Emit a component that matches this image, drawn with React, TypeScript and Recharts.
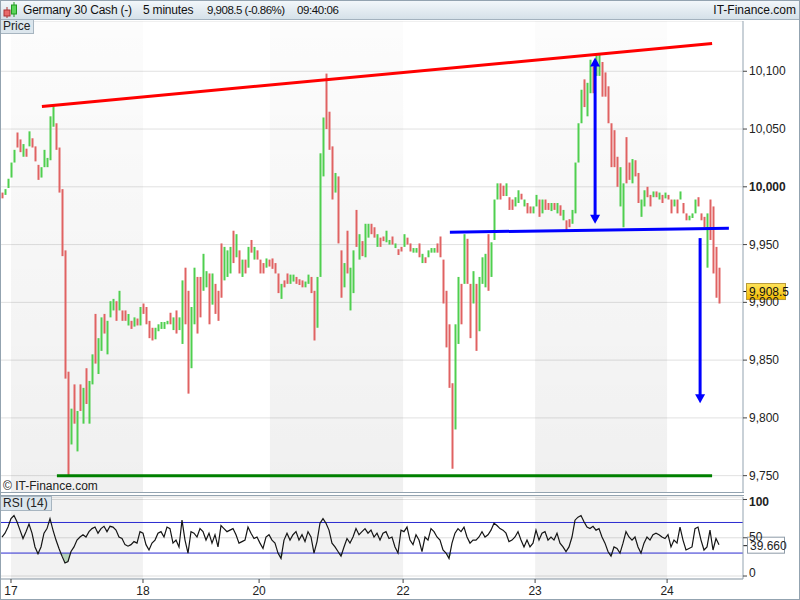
import React from 'react';
import {
  ComposedChart,
  Bar,
  Cell,
  Line,
  Area,
  XAxis,
  YAxis,
  CartesianGrid,
  ReferenceLine,
  ReferenceArea,
} from 'recharts';

const FONT = '"Liberation Sans", Arial, sans-serif';
const UP = '#4fcf4f';
const DOWN = '#e06262';
const FRAME = '#93a3b0';

// 5 minute bars, one entry per bar
const lows = [
  9990, 9993, 9999, 10008, 10021, 10034, 10030, 10026, 10026, 10035,
  10034, 10022, 10006, 10008, 10017, 10017, 10023, 10052, 10032, 9995,
  9940, 9834, 9749, 9777, 9795, 9771, 9806, 9795, 9812, 9795,
  9829, 9847, 9838, 9858, 9873, 9855, 9887, 9893, 9884, 9893,
  9884, 9884, 9880, 9877, 9879, 9880, 9880, 9890, 9881, 9869,
  9867, 9868, 9875, 9877, 9877, 9881, 9881, 9876, 9873, 9876,
  9864, 9881, 9821, 9843, 9881, 9873, 9887, 9910, 9913, 9881,
  9898, 9890, 9884, 9904, 9919, 9922, 9925, 9934, 9939, 9925,
  9922, 9925, 9930, 9943, 9937, 9937, 9925, 9925, 9930, 9931,
  9929, 9925, 9908, 9903, 9913, 9916, 9916, 9918, 9916, 9915,
  9913, 9913, 9916, 9908, 9867, 9878, 9922, 10009, 10050, 10032,
  9989, 9995, 9951, 9904, 9913, 9925, 9893, 9908, 9948, 9937,
  9940, 9939, 9956, 9959, 9956, 9948, 9948, 9953, 9952, 9950,
  9950, 9947, 9941, 9944, 9948, 9950, 9944, 9943, 9943, 9939,
  9934, 9934, 9939, 9943, 9943, 9943, 9939, 9899, 9861, 9826,
  9756, 9790, 9864, 9881, 9916, 9916, 9869, 9899, 9858, 9875,
  9916, 9913, 9910, 9922, 9954, 9989, 9989, 9992, 9992, 9980,
  9980, 9983, 9986, 9989, 9983, 9977, 9977, 9977, 9983, 9974,
  9977, 9980, 9980, 9979, 9980, 9977, 9975, 9971, 9962, 9965,
  9968, 9977, 10021, 10055, 10069, 10061, 10081, 10081, 10096, 10096,
  10078, 10078, 10055, 10017, 10017, 10000, 9983, 9965, 10003, 10006,
  10003, 10009, 9986, 9974, 9983, 9991, 9983, 9991, 9991, 9989,
  9986, 9990, 9989, 9977, 9983, 9977, 9989, 9977, 9971, 9971,
  9973, 9977, 9983, 9971, 9965, 9930, 9954, 9925, 9904, 9899,
];

const highs = [
  9995, 9998, 10007, 10021, 10032, 10047, 10041, 10037, 10033, 10048,
  10042, 10035, 10019, 10017, 10032, 10025, 10061, 10070, 10055, 10034,
  9998, 9945, 9840, 9808, 9829, 9806, 9829, 9826, 9843, 9832,
  9855, 9890, 9869, 9887, 9890, 9884, 9901, 9903, 9901, 9910,
  9893, 9893, 9890, 9884, 9887, 9886, 9896, 9899, 9896, 9884,
  9878, 9878, 9881, 9883, 9883, 9884, 9891, 9887, 9893, 9887,
  9919, 9930, 9910, 9896, 9930, 9922, 9922, 9942, 9927, 9925,
  9925, 9916, 9910, 9951, 9948, 9945, 9948, 9962, 9959, 9945,
  9937, 9937, 9948, 9954, 9948, 9945, 9937, 9934, 9938, 9937,
  9938, 9934, 9925, 9916, 9919, 9925, 9924, 9924, 9922, 9920,
  9919, 9918, 9924, 9922, 9910, 9922, 10029, 10060, 10098, 10065,
  10035, 10012, 10009, 9945, 9934, 9962, 9930, 9945, 9980, 9959,
  9953, 9968, 9968, 9968, 9965, 9959, 9956, 9957, 9962, 9954,
  9957, 9951, 9946, 9948, 9959, 9956, 9951, 9947, 9947, 9951,
  9942, 9939, 9945, 9947, 9947, 9951, 9957, 9937, 9910, 9881,
  9830, 9881, 9922, 9916, 9959, 9955, 9916, 9927, 9916, 9922,
  9939, 9942, 9959, 9952, 9989, 10003, 10003, 10001, 10003, 9991,
  9989, 9991, 9997, 9994, 9989, 9986, 9983, 9983, 9993, 9989,
  9989, 9989, 9986, 9986, 9986, 9986, 9984, 9980, 9971, 9972,
  9980, 10021, 10055, 10084, 10093, 10090, 10110, 10104, 10114, 10115,
  10108, 10099, 10087, 10055, 10049, 10026, 10017, 10003, 10043, 10021,
  10024, 10023, 10012, 9989, 9997, 10000, 9993, 9996, 9996, 9995,
  9993, 9995, 9993, 9989, 9989, 9989, 9996, 9986, 9977, 9975,
  9977, 9989, 9991, 9977, 9974, 9977, 9989, 9983, 9948, 9930,
];

// u = rising candle, d = falling candle
const moves = [
  'duuuuddudu', 'ddduuuuudd', 'dddudududu', 'uduuduuudu', 'ddudududdd',
  'duuuuududu', 'udduudduud', 'uddduuudud', 'udududddud', 'dddudduudd',
  'duudduuudd', 'dudduduudu', 'duuddudduu', 'duddudduud', 'uduuuddddd',
  'duududdudu', 'uuduuuddud', 'duududduud', 'uddudududd', 'uuuuduuduu',
  'dddddduudd', 'udduuddudu', 'duddududdu', 'uudddudddd',
].join('');

const rsiValues = [
  51, 56, 64, 75, 79, 71, 60, 49, 58, 68,
  56, 38, 29, 38, 56, 62, 75, 60, 47, 36,
  26, 17, 19, 32, 38, 47, 51, 54, 51, 58,
  62, 64, 56, 62, 65, 58, 65, 64, 60, 51,
  49, 41, 39, 41, 45, 43, 58, 56, 41, 34,
  43, 47, 56, 58, 51, 64, 62, 43, 47, 38,
  73, 47, 30, 58, 56, 51, 62, 58, 47, 56,
  43, 54, 38, 66, 62, 58, 60, 62, 54, 43,
  45, 47, 64, 56, 49, 51, 43, 36, 51, 54,
  47, 43, 30, 23, 47, 56, 47, 54, 58, 47,
  54, 45, 58, 51, 30, 45, 69, 75, 69, 60,
  43, 38, 32, 26, 38, 49, 43, 51, 62, 54,
  58, 62, 56, 60, 51, 56, 47, 56, 58, 49,
  51, 38, 30, 60, 58, 64, 47, 41, 54, 47,
  32, 51, 47, 62, 58, 51, 47, 34, 30, 23,
  43, 56, 62, 58, 64, 51, 43, 47, 47, 51,
  58, 51, 54, 60, 69, 66, 62, 60, 56, 45,
  47, 51, 58, 47, 38, 47, 38, 43, 60, 47,
  56, 58, 47, 51, 47, 56, 43, 38, 32, 38,
  51, 73, 77, 79, 71, 64, 62, 65, 60, 62,
  51, 43, 32, 26, 38, 36, 30, 43, 58, 51,
  47, 51, 38, 30, 43, 51, 47, 54, 56, 54,
  51, 49, 54, 38, 47, 43, 64, 47, 34, 36,
  38, 62, 64, 47, 34, 38, 60, 34, 49, 41,
];

const priceTicks = [9750, 9800, 9850, 9900, 9950, 10000, 10050, 10100];
const rsiTicks = [0, 50, 100];
const dayTicks = [3, 47, 85.7, 133.7, 177.7, 221.7];
const dayLabels = ['17', '18', '20', '22', '23', '24'];
const sessionShades = [[3, 47], [89.3, 133.7], [177.7, 221.7]];
const lastPrice = 9908.5;
const lastRsi = 39.66;

// drawn annotations (bar index, price)
const resistanceLine = [{ x: 13.3, y: 10069.6 }, { x: 236.7, y: 10124 }];
const necklineLine = [{ x: 149.3, y: 9960.7 }, { x: 242.3, y: 9964.1 }];
const supportLine = [{ x: 18.3, y: 9750 }, { x: 236.7, y: 9750 }];
const riseArrow = [{ x: 197.7, y: 10112 }, { x: 197.7, y: 9968 }];
const targetArrow = [{ x: 232.7, y: 9955.6 }, { x: 232.7, y: 9812.6 }];

const X_DOMAIN = [-0.333, 247];

const data = lows.map((low, i) => ({
  i,
  range: [low, highs[i]],
  up: moves[i] === 'u',
  rsi: rsiValues[i],
}));

const fmtPrice = (v: number) => v.toLocaleString('en-US');

const PriceTick = ({ x, y, payload }: any) => (
  <text
    x={x}
    y={y}
    dominantBaseline="central"
    fontSize={12}
    fontFamily={FONT}
    fontWeight={payload.value === 10000 ? 700 : 400}
    fill="#222"
  >
    {fmtPrice(payload.value)}
  </text>
);

const RsiTick = ({ x, y, payload }: any) => {
  const nudge = payload.value === 100 ? 2 : payload.value === 0 ? -3 : -1;
  return (
    <text
      x={x}
      y={y + nudge}
      dominantBaseline="central"
      fontSize={12}
      fontFamily={FONT}
      fontWeight={payload.value === 100 ? 700 : 400}
      fill="#222"
    >
      {payload.value}
    </text>
  );
};

const DayTick = ({ x, y, payload }: any) => (
  <text x={x} y={y + 6} textAnchor="middle" dominantBaseline="central" fontSize={12} fontFamily={FONT} fill="#222">
    {dayLabels[dayTicks.indexOf(payload.value)]}
  </text>
);

const PriceTag = ({ viewBox }: any) => {
  const right = viewBox.x + viewBox.width;
  const y = viewBox.y - 1;
  return (
    <g>
      <line x1={right} x2={right + 5} y1={y} y2={y} stroke="#111" />
      <rect x={right + 3.5} y={y - 8} width={39} height={16} fill="url(#goldTag)" stroke="#b99a3a" />
      <text x={right + 6} y={y} dominantBaseline="central" fontSize={12} fontFamily={FONT} fill="#111">
        {lastPrice.toLocaleString('en-US', { minimumFractionDigits: 1 })}
      </text>
    </g>
  );
};

const RsiTag = ({ viewBox }: any) => {
  const right = viewBox.x + viewBox.width;
  const y = viewBox.y;
  return (
    <g>
      <line x1={right} x2={right + 4} y1={y} y2={y} stroke="#111" />
      <rect x={right + 4.5} y={y - 8.5} width={37} height={16} fill="#fff" stroke="#8d9ba7" />
      <text x={right + 7} y={y} dominantBaseline="central" fontSize={12} fontFamily={FONT} fill="#222">
        {lastRsi.toFixed(3)}
      </text>
    </g>
  );
};

const arrow = (bothEnds: boolean) => (p: any) => {
  const x = p.x1;
  const top = Math.min(p.y1, p.y2);
  const bottom = Math.max(p.y1, p.y2);
  return (
    <g>
      <line x1={x} x2={x} y1={bothEnds ? top + 8 : top} y2={bottom - 8} stroke="#0000ff" strokeWidth={3} />
      <polygon points={`${x - 5},${bottom - 9} ${x + 5},${bottom - 9} ${x},${bottom}`} fill="#0000ff" />
      {bothEnds && <polygon points={`${x - 5},${top + 9} ${x + 5},${top + 9} ${x},${top}`} fill="#0000ff" />}
    </g>
  );
};

const panelLabel: React.CSSProperties = {
  position: 'absolute',
  left: 0,
  background: '#dce6ed',
  borderRight: '1px solid #a7b5c0',
  borderBottom: '1px solid #a7b5c0',
  fontSize: 12,
  lineHeight: '13px',
  padding: '0 3px',
  color: '#222',
};

const PricePanel = () => (
  <div style={{ position: 'absolute', left: 0, top: 21 }}>
    <ComposedChart width={800} height={472} data={data} margin={{ top: 0, right: 0, bottom: 0, left: 1 }}>
      <defs>
        <linearGradient id="sessionFade" x1="0" y1="0" x2="0" y2="1">
          <stop offset="0%" stopColor="#000" stopOpacity={0.012} />
          <stop offset="100%" stopColor="#000" stopOpacity={0.06} />
        </linearGradient>
        <linearGradient id="goldTag" x1="0" y1="0" x2="0" y2="1">
          <stop offset="0%" stopColor="#ffe55c" />
          <stop offset="100%" stopColor="#f2b900" />
        </linearGradient>
      </defs>
      {sessionShades.map(([a, b]) => (
        <ReferenceArea key={a} x1={a} x2={b} fill="url(#sessionFade)" fillOpacity={1} stroke="none" />
      ))}
      <CartesianGrid vertical={false} stroke="#e1e1e1" />
      <XAxis dataKey="i" type="number" domain={X_DOMAIN} hide allowDataOverflow />
      <YAxis
        orientation="right"
        width={57}
        domain={[9735, 10143.5]}
        ticks={priceTicks}
        interval={0}
        allowDataOverflow
        axisLine={{ stroke: FRAME }}
        tickLine={{ stroke: '#444' }}
        tickSize={4}
        tick={(p: any) => <PriceTick {...p} />}
      />
      <Bar dataKey="range" barSize={2} isAnimationActive={false}>
        {data.map((d) => (
          <Cell key={d.i} fill={d.up ? UP : DOWN} />
        ))}
      </Bar>
      <ReferenceLine segment={supportLine} stroke="#008000" strokeWidth={3} />
      <ReferenceLine segment={resistanceLine} stroke="#ff0000" strokeWidth={3} />
      <ReferenceLine segment={necklineLine} stroke="#0000ff" strokeWidth={3} />
      <ReferenceLine segment={riseArrow} shape={arrow(true)} />
      <ReferenceLine segment={targetArrow} shape={arrow(false)} />
      <ReferenceLine y={lastPrice} stroke="none" label={(p: any) => <PriceTag {...p} />} />
    </ComposedChart>
  </div>
);

const RsiPanel = () => (
  <div style={{ position: 'absolute', left: 0, top: 493 }}>
    <ComposedChart width={800} height={106} data={data} margin={{ top: 4, right: 0, bottom: 0, left: 1 }}>
      {sessionShades.map(([a, b]) => (
        <ReferenceArea key={a} x1={a} x2={b} fill="#000" fillOpacity={0.05} stroke="none" />
      ))}
      <CartesianGrid vertical={false} stroke="#dedede" />
      <XAxis
        dataKey="i"
        type="number"
        domain={X_DOMAIN}
        ticks={dayTicks}
        interval={0}
        height={20}
        allowDataOverflow
        axisLine={{ stroke: FRAME }}
        tickLine={{ stroke: '#444' }}
        tickSize={4}
        tick={(p: any) => <DayTick {...p} />}
      />
      <YAxis
        orientation="right"
        width={57}
        domain={[-3.9, 103.3]}
        ticks={rsiTicks}
        interval={0}
        allowDataOverflow
        axisLine={{ stroke: FRAME }}
        tickLine={{ stroke: '#444' }}
        tickSize={4}
        tick={(p: any) => <RsiTick {...p} />}
      />
      <ReferenceLine y={70} stroke="#2b2bd0" />
      <ReferenceLine y={30} stroke="#2b2bd0" />
      <Area
        dataKey={(d: any) => Math.min(d.rsi, 30)}
        baseValue={30}
        stroke="none"
        fill="#8fbf8f"
        fillOpacity={0.6}
        isAnimationActive={false}
      />
      <Line dataKey="rsi" stroke="#151515" strokeWidth={1.2} dot={false} isAnimationActive={false} />
      <ReferenceLine y={lastRsi} stroke="none" label={(p: any) => <RsiTag {...p} />} />
    </ComposedChart>
  </div>
);

const CandleIcon = () => (
  <svg width={16} height={18} style={{ position: 'absolute', left: 2, top: 1 }}>
    <line x1={5} x2={5} y1={6} y2={17} stroke="#a33" />
    <rect x={2} y={9} width={6} height={6} fill="#e86a6a" stroke="#a33" />
    <line x1={12} x2={12} y1={1} y2={16} stroke="#292" />
    <rect x={9.5} y={4} width={5} height={9} fill="#5bd65b" stroke="#292" />
  </svg>
);

export default function App() {
  return (
    <div
      style={{
        position: 'absolute',
        left: 0,
        top: 0,
        width: 800,
        height: 600,
        background: '#fff',
        fontFamily: FONT,
        overflow: 'hidden',
      }}
    >
      <div
        style={{
          position: 'absolute',
          left: 0,
          top: 0,
          width: 800,
          height: 20,
          background: 'linear-gradient(#f4f8fb, #d5e1e9)',
          borderBottom: '1px solid #a3b2be',
          boxSizing: 'border-box',
          fontSize: 12,
          lineHeight: '20px',
          color: '#111',
        }}
      >
        <CandleIcon />
        <span style={{ position: 'absolute', left: 23, letterSpacing: -0.2 }}>Germany 30 Cash (-)</span>
        <span style={{ position: 'absolute', left: 143, letterSpacing: -0.2 }}>5 minutes</span>
        <span style={{ position: 'absolute', left: 207, fontSize: 11.5, letterSpacing: -0.5 }}>9,908.5 (-0.86%)</span>
        <span style={{ position: 'absolute', left: 297, fontSize: 11.5, letterSpacing: -0.4 }}>09:40:06</span>
        <span style={{ position: 'absolute', right: 4 }}>IT-Finance.com</span>
      </div>

      <PricePanel />
      <RsiPanel />

      <div style={{ ...panelLabel, top: 20 }}>Price</div>
      <div style={{ ...panelLabel, top: 496, borderTop: '1px solid #a7b5c0' }}>RSI (14)</div>
      <div style={{ position: 'absolute', left: 3, top: 479, fontSize: 12, lineHeight: '14px', color: '#222' }}>
        © IT-Finance.com
      </div>

      <div
        style={{
          position: 'absolute',
          left: 0,
          top: 20,
          width: 744,
          height: 473,
          borderLeft: `1px solid ${FRAME}`,
          borderBottom: `1px solid ${FRAME}`,
          boxSizing: 'border-box',
          pointerEvents: 'none',
        }}
      />
      <div
        style={{
          position: 'absolute',
          left: 0,
          top: 495,
          width: 744,
          height: 85,
          borderLeft: `1px solid ${FRAME}`,
          borderTop: `1px solid ${FRAME}`,
          boxSizing: 'border-box',
          pointerEvents: 'none',
        }}
      />
      <div
        style={{
          position: 'absolute',
          left: 0,
          top: 0,
          width: 800,
          height: 600,
          border: `1px solid ${FRAME}`,
          boxSizing: 'border-box',
          pointerEvents: 'none',
        }}
      />
    </div>
  );
}
